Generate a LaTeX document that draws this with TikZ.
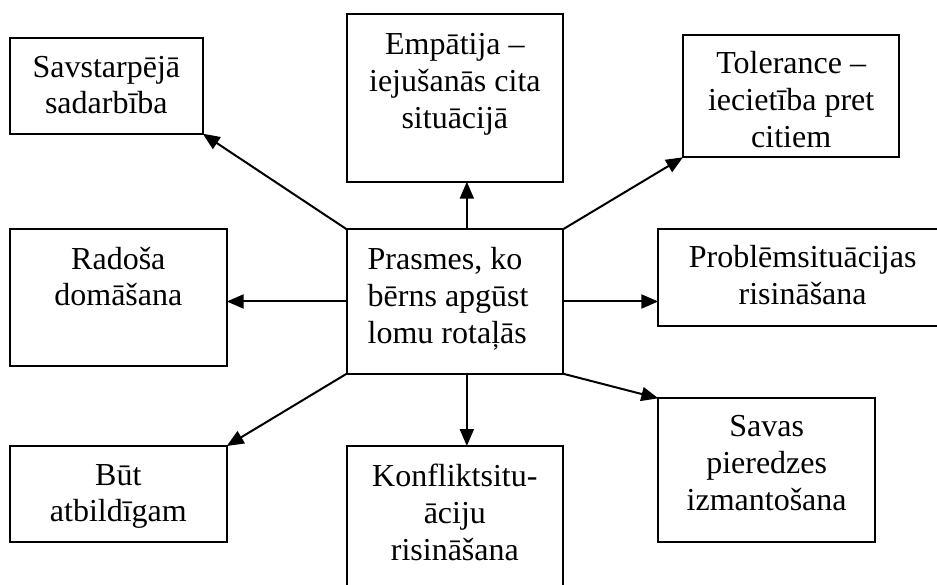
\documentclass[tikz,border=0pt]{standalone}
\usepackage{fontspec}
\setmainfont{Liberation Serif}
\usetikzlibrary{arrows.meta,calc}
\tikzset{
  boxnode/.style={draw, line width=2pt, inner sep=0pt, outer sep=0pt, anchor=north west},
  txt/.style={inner sep=0pt, outer sep=0pt, anchor=base, font=\fontsize{32}{36.7}\selectfont},
  txtl/.style={txt, anchor=base west},
  arr/.style={line width=2pt, -{Triangle[length=17pt,width=14pt]}}
}
\begin{document}
\begin{tikzpicture}[x=1pt,y=-1pt]
\useasboundingbox (0,0) rectangle (937,585);
\clip (0,0) rectangle (937,585);
% boxes
\node[boxnode, minimum width=192.7pt, minimum height=96pt] (sav) at (10,37.7) {};
\node[boxnode, minimum width=216.3pt, minimum height=167.7pt] (emp) at (346.7,14) {};
\node[boxnode, minimum width=216.3pt, minimum height=122.3pt] (tol) at (683,35) {};
\node[boxnode, minimum width=216.7pt, minimum height=136.4pt] (rad) at (10,229.3) {};
\node[boxnode, minimum width=216.3pt, minimum height=144.4pt] (cen) at (346.7,229.3) {};
\node[boxnode, minimum width=288.7pt, minimum height=96.4pt] (prob) at (658.3,229.3) {};
\node[boxnode, minimum width=216.7pt, minimum height=96pt] (but) at (10,446) {};
\node[boxnode, minimum width=216.3pt, minimum height=154pt] (kon) at (346.7,446) {};
\node[boxnode, minimum width=216.7pt, minimum height=143.7pt] (sas) at (658.3,398.3) {};
% texts
\node[txt] (tsav) at ([yshift=-39.6pt]sav.north) {\begin{tabular}[t]{@{}c@{}}Savstarpējā\\sadarbība\end{tabular}};
\node[txt] (temp) at ([yshift=-41pt]emp.north) {\begin{tabular}[t]{@{}c@{}}Empātija –\\iejušanās cita\\situācijā\end{tabular}};
\node[txt] (ttol) at ([yshift=-39pt]tol.north) {\begin{tabular}[t]{@{}c@{}}Tolerance –\\iecietība pret\\citiem\end{tabular}};
\node[txt] (trad) at ([yshift=-40pt]rad.north) {\begin{tabular}[t]{@{}c@{}}Radoša\\domāšana\end{tabular}};
\node[txtl] (tcen) at ([xshift=21pt,yshift=-40.7pt]cen.north west) {\begin{tabular}[t]{@{}l@{}}Prasmes, ko\\bērns apgūst\\lomu rotaļās\end{tabular}};
\node[txt] (tprob) at ([yshift=-38.7pt]prob.north) {\begin{tabular}[t]{@{}c@{}}Problēmsituācijas\\risināšana\end{tabular}};
\node[txt] (tbut) at ([yshift=-39pt]but.north) {\begin{tabular}[t]{@{}c@{}}Būt\\atbildīgam\end{tabular}};
\node[txt] (tkon) at ([yshift=-40.7pt]kon.north) {\begin{tabular}[t]{@{}c@{}}Konfliktsitu-\\āciju\\risināšana\end{tabular}};
\node[txt] (tsas) at ([yshift=-38.4pt]sas.north) {\begin{tabular}[t]{@{}c@{}}Savas\\pieredzes\\izmantošana\end{tabular}};
% arrows
\draw[arr] (cen.north west) -- (sav.south east);
\draw[arr] ([xshift=12pt]cen.north) -- ([xshift=12pt]emp.south);
\draw[arr] (cen.north east) -- (tol.south west);
\draw[arr] (cen.west) -- (cen.west -| rad.east);
\draw[arr] (cen.east) -- (cen.east -| prob.west);
\draw[arr] (cen.south west) -- (but.north east);
\draw[arr] ([xshift=12pt]cen.south) -- ([xshift=12pt]kon.north);
\draw[arr] (cen.south east) -- (sas.north west);
\end{tikzpicture}
\end{document}
